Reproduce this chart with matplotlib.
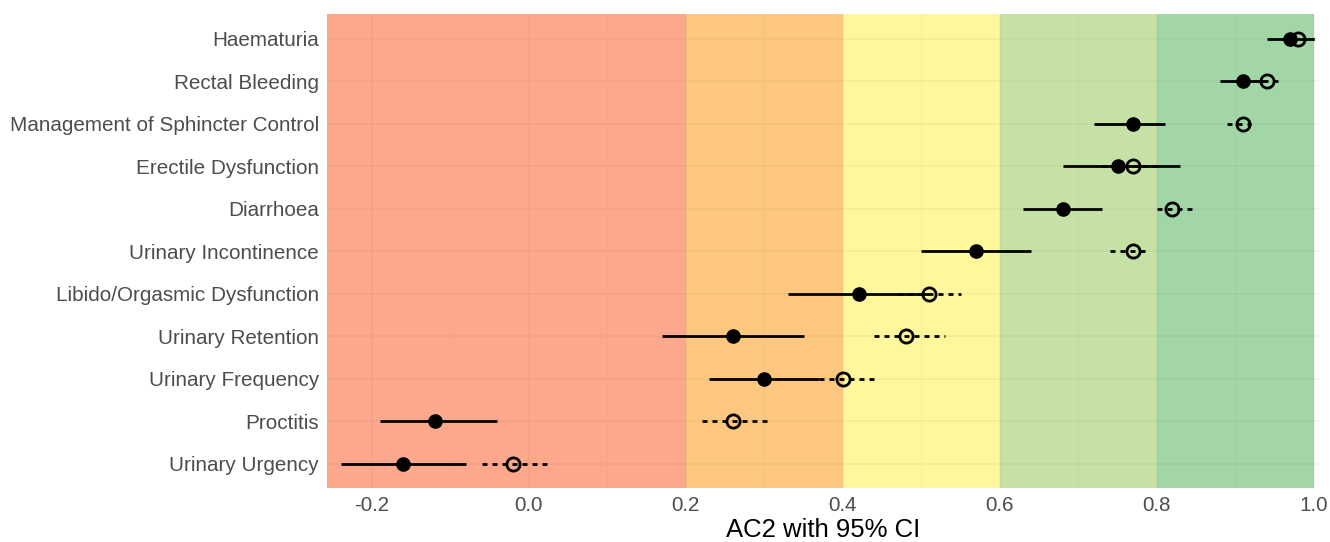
import numpy as np
import matplotlib.pyplot as plt

plt.rcParams['font.family'] = ['Liberation Sans', 'DejaVu Sans']

# categories from bottom to top
labels = ["Urinary Urgency", "Proctitis", "Urinary Frequency", "Urinary Retention",
          "Libido/Orgasmic Dysfunction", "Urinary Incontinence", "Diarrhoea",
          "Erectile Dysfunction", "Management of Sphincter Control",
          "Rectal Bleeding", "Haematuria"]

# filled points with solid CI
ac2_a = [-0.16, -0.12, 0.30, 0.26, 0.42, 0.57, 0.68, 0.75, 0.77, 0.91, 0.97]
lo_a = [-0.24, -0.19, 0.23, 0.17, 0.33, 0.50, 0.63, 0.68, 0.72, 0.88, 0.94]
hi_a = [-0.08, -0.04, 0.37, 0.35, 0.51, 0.64, 0.73, 0.83, 0.81, 0.94, 1.00]

# open points with dashed CI
ac2_b = [-0.02, 0.26, 0.40, 0.48, 0.51, 0.77, 0.82, 0.77, 0.91, 0.94, 0.98]
lo_b = [-0.06, 0.22, 0.37, 0.44, 0.47, 0.74, 0.80, 0.73, 0.89, 0.91, 0.96]
hi_b = [0.03, 0.31, 0.44, 0.53, 0.55, 0.785, 0.845, 0.80, 0.92, 0.96, 1.00]

bands = [(-1.0, 0.2), (0.2, 0.4), (0.4, 0.6), (0.6, 0.8), (0.8, 1.0)]
band_colors = ["#FDA88C", "#FDC77F", "#FFF79B", "#C6E1A5", "#A3D6A6"]

fig = plt.figure(figsize=(13.3, 5.42), dpi=100)
ax = fig.add_axes([0.246, 0.0996, 0.7465, 0.8745])

y = np.arange(len(labels))

for (a, b), c in zip(bands, band_colors):
    ax.axvspan(a, b, color=c, zorder=0, lw=0)

# grid drawn over the bands, faint
for gx in np.arange(-0.2, 1.01, 0.1):
    major = abs(round(gx / 0.2) * 0.2 - gx) < 1e-6
    ax.axvline(gx, color="#8a6a5a", alpha=0.08 if major else 0.05, lw=1.2 if major else 0.7, zorder=1)
for gy in y:
    ax.axhline(gy, color="#8a6a5a", alpha=0.08, lw=1.2, zorder=1)

ax.hlines(y, lo_b, hi_b, colors="black", linestyles=(0, (1.8, 1.8)), lw=2, zorder=2)
ax.hlines(y, lo_a, hi_a, colors="black", lw=2, zorder=3)
ax.plot(ac2_b, y, "o", ms=9.5, mfc="none", mec="black", mew=2, zorder=4)
ax.plot(ac2_a, y, "o", ms=9.5, mfc="black", mec="black", zorder=5)

ax.set_xlim(-0.257, 1.008)
ax.set_ylim(-0.57, 10.58)
ax.set_xticks([-0.2, 0.0, 0.2, 0.4, 0.6, 0.8, 1.0])
ax.set_xticklabels(["-0.2", "0.0", "0.2", "0.4", "0.6", "0.8", "1.0"])
ax.set_yticks(y)
ax.set_yticklabels(labels)
ax.tick_params(axis="both", length=0, labelsize=14.9, colors="#4d4d4d", pad=6)
ax.set_xlabel("AC2 with 95% CI", fontsize=18.5, color="black", labelpad=2)
for s in ax.spines.values():
    s.set_visible(False)

fig.savefig("out.png", dpi=100)
